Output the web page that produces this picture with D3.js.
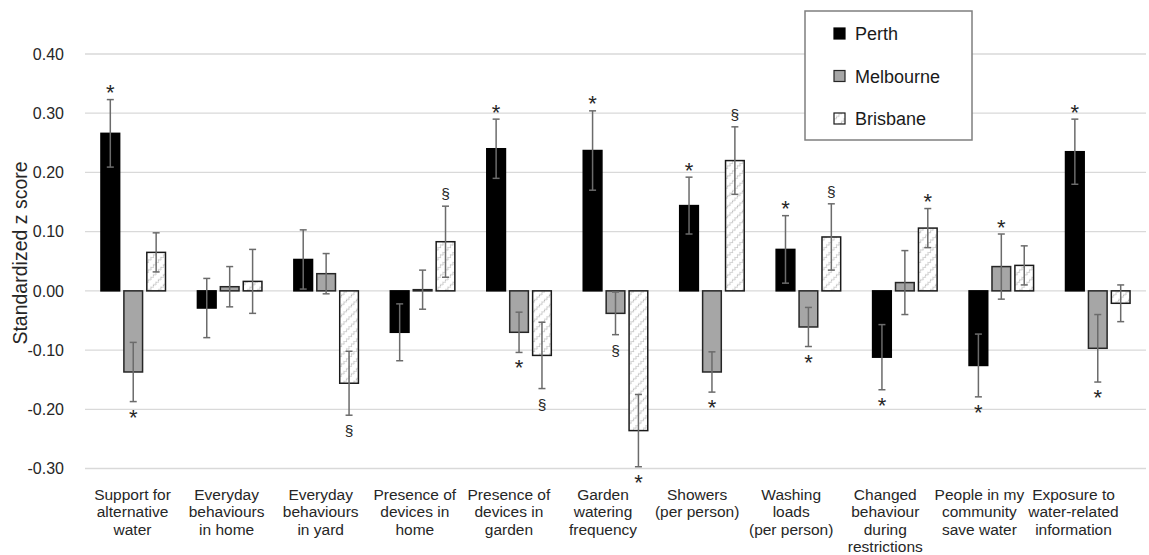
<!DOCTYPE html>
<html>
<head>
<meta charset="utf-8">
<script src="https://cdn.jsdelivr.net/npm/d3@7"></script>
<style>
  html, body { margin: 0; padding: 0; background: #fff; }
  svg { display: block; font-family: "Liberation Sans", Arial, sans-serif; }
</style>
</head>
<body>
<svg id="chart" width="1149" height="555"></svg>
<script>
// ---------------- DATA ----------------
const categories = [
  ["Support for", "alternative", "water"],
  ["Everyday", "behaviours", "in home"],
  ["Everyday", "behaviours", "in yard"],
  ["Presence of", "devices in", "home"],
  ["Presence of", "devices in", "garden"],
  ["Garden", "watering", "frequency"],
  ["Showers", "(per person)"],
  ["Washing", "loads", "(per person)"],
  ["Changed", "behaviour", "during", "restrictions"],
  ["People in my", "community", "save water"],
  ["Exposure to", "water-related", "information"]
];
const seriesNames = ["Perth", "Melbourne", "Brisbane"];

const perthValues     = [0.266, -0.029, 0.053, -0.070, 0.240, 0.237, 0.144, 0.070, -0.112, -0.126, 0.235];
const perthErrors     = [0.057, 0.050, 0.050, 0.048, 0.050, 0.067, 0.048, 0.057, 0.055, 0.053, 0.055];
const perthMarks      = ["*", "", "", "", "*", "*", "*", "*", "*", "*", "*"];

const melbourneValues = [-0.137, 0.007, 0.029, 0.002, -0.070, -0.038, -0.137, -0.061, 0.014, 0.041, -0.097];
const melbourneErrors = [0.050, 0.034, 0.034, 0.033, 0.034, 0.036, 0.034, 0.033, 0.054, 0.055, 0.057];
const melbourneMarks  = ["*", "", "", "", "*", "§", "*", "*", "", "*", "*"];

const brisbaneValues  = [0.065, 0.016, -0.156, 0.083, -0.109, -0.236, 0.220, 0.091, 0.106, 0.043, -0.021];
const brisbaneErrors  = [0.033, 0.054, 0.054, 0.060, 0.056, 0.061, 0.057, 0.056, 0.033, 0.033, 0.031];
const brisbaneMarks   = ["", "", "§", "§", "§", "*", "§", "§", "*", "", ""];

const yTicks = [-0.30, -0.20, -0.10, 0.00, 0.10, 0.20, 0.30, 0.40];
const yTitle = "Standardized z score";

// ---------------- BUILD ----------------
const catKeys = categories.map(c => c.join(" "));
const seriesData = [
  { name: "Perth", values: perthValues, errors: perthErrors, marks: perthMarks },
  { name: "Melbourne", values: melbourneValues, errors: melbourneErrors, marks: melbourneMarks },
  { name: "Brisbane", values: brisbaneValues, errors: brisbaneErrors, marks: brisbaneMarks }
];
const rows = [];
seriesData.forEach(s => {
  catKeys.forEach((k, i) => {
    rows.push({ cat: k, series: s.name, v: s.values[i], e: s.errors[i], m: s.marks[i] });
  });
});

const svg = d3.select("#chart");
const defs = svg.append("defs");
const pat = defs.append("pattern")
  .attr("id", "hatch")
  .attr("patternUnits", "userSpaceOnUse")
  .attr("width", 7).attr("height", 7)
  .attr("patternTransform", "rotate(-45)");
pat.append("rect").attr("width", 7).attr("height", 7).attr("fill", "#fff");
pat.append("path")
  .attr("d", "M0,3.5 L1.75,1.8 L3.5,3.5 L5.25,1.8 L7,3.5")
  .attr("fill", "none").attr("stroke", "#b5b5b5").attr("stroke-width", 1);

const left = 85, right = 1146;
const x = d3.scaleBand().domain(catKeys).range([left, right]).paddingInner(0.331).paddingOuter(0.1655);
const xs = d3.scaleBand().domain(seriesNames).range([0, x.bandwidth()]).paddingInner(0.185);
const y = d3.scaleLinear().domain([-0.3, 0.4]).range([468.5, 54]);
// label positions (text block centres as laid out in the reference)
const xl = d3.scalePoint().domain(catKeys).range([132.5, 1073.5]);

const fills = { Perth: "#000000", Melbourne: "#a6a6a6", Brisbane: "url(#hatch)" };
const strokes = { Perth: "#000000", Melbourne: "#262626", Brisbane: "#1a1a1a" };

// gridlines
svg.append("g").selectAll("line").data(yTicks).join("line")
  .attr("x1", left).attr("x2", right)
  .attr("y1", d => y(d)).attr("y2", d => y(d))
  .attr("stroke", "#d9d9d9").attr("stroke-width", 1.3);

// y tick labels
svg.append("g").selectAll("text").data(yTicks).join("text")
  .attr("x", 64).attr("y", d => y(d) + 5.8)
  .attr("text-anchor", "end")
  .attr("font-size", 16).attr("fill", "#262626")
  .text(d => d3.format(".2f")(d).replace("\u2212", "-"));

// y title
svg.append("text")
  .attr("transform", `translate(27,${253}) rotate(-90)`)
  .attr("text-anchor", "middle")
  .attr("font-size", 19.5).attr("fill", "#262626")
  .text(yTitle);

// bars
const gBars = svg.append("g");
gBars.selectAll("rect").data(rows).join("rect")
  .attr("x", d => x(d.cat) + xs(d.series))
  .attr("width", xs.bandwidth())
  .attr("y", d => Math.min(y(d.v), y(0)))
  .attr("height", d => Math.abs(y(d.v) - y(0)))
  .attr("fill", d => fills[d.series])
  .attr("stroke", d => strokes[d.series])
  .attr("stroke-width", 1.5);

// error bars
const gErr = svg.append("g").attr("stroke", "#6b6b6b").attr("stroke-width", 1.5);
rows.forEach(d => {
  const cx = x(d.cat) + xs(d.series) + xs.bandwidth() / 2;
  const y1 = y(d.v + d.e), y2 = y(d.v - d.e);
  gErr.append("line").attr("x1", cx).attr("x2", cx).attr("y1", y1).attr("y2", y2);
  gErr.append("line").attr("x1", cx - 3.5).attr("x2", cx + 3.5).attr("y1", y1).attr("y2", y1);
  gErr.append("line").attr("x1", cx - 3.5).attr("x2", cx + 3.5).attr("y1", y2).attr("y2", y2);
});

// significance marks
svg.append("g").selectAll("text").data(rows.filter(d => d.m !== "")).join("text")
  .attr("x", d => x(d.cat) + xs(d.series) + xs.bandwidth() / 2)
  .attr("y", d => {
    const isStar = d.m === "*";
    if (d.v >= 0) return y(d.v + d.e) - (isStar ? -0.5 : 7);
    return y(d.v - d.e) + (isStar ? 23 : 21);
  })
  .attr("text-anchor", "middle")
  .attr("font-size", d => d.m === "*" ? 22 : 15.5)
  .attr("fill", "#262626")
  .text(d => d.m);

// category labels
const gLab = svg.append("g").attr("font-size", 15.5).attr("fill", "#262626").attr("text-anchor", "middle");
categories.forEach((lines, i) => {
  const t = gLab.append("text").attr("x", xl(catKeys[i])).attr("y", 500);
  lines.forEach((ln, j) => {
    t.append("tspan").attr("x", xl(catKeys[i])).attr("dy", j === 0 ? 0 : 17.4).text(ln);
  });
});

// legend
const lg = svg.append("g");
lg.append("rect").attr("x", 805).attr("y", 11).attr("width", 167).attr("height", 129)
  .attr("fill", "#fff").attr("stroke", "#7f7f7f").attr("stroke-width", 1.5);
seriesNames.forEach((s, i) => {
  const cy = 33.5 + i * 42.5;
  lg.append("rect").attr("x", 834).attr("y", cy - 5.5).attr("width", 11).attr("height", 11)
    .attr("fill", fills[s]).attr("stroke", strokes[s]).attr("stroke-width", 1.2);
  lg.append("text").attr("x", 855).attr("y", cy + 6.5)
    .attr("font-size", 18).attr("fill", "#1a1a1a").text(s);
});
</script>
</body>
</html>
